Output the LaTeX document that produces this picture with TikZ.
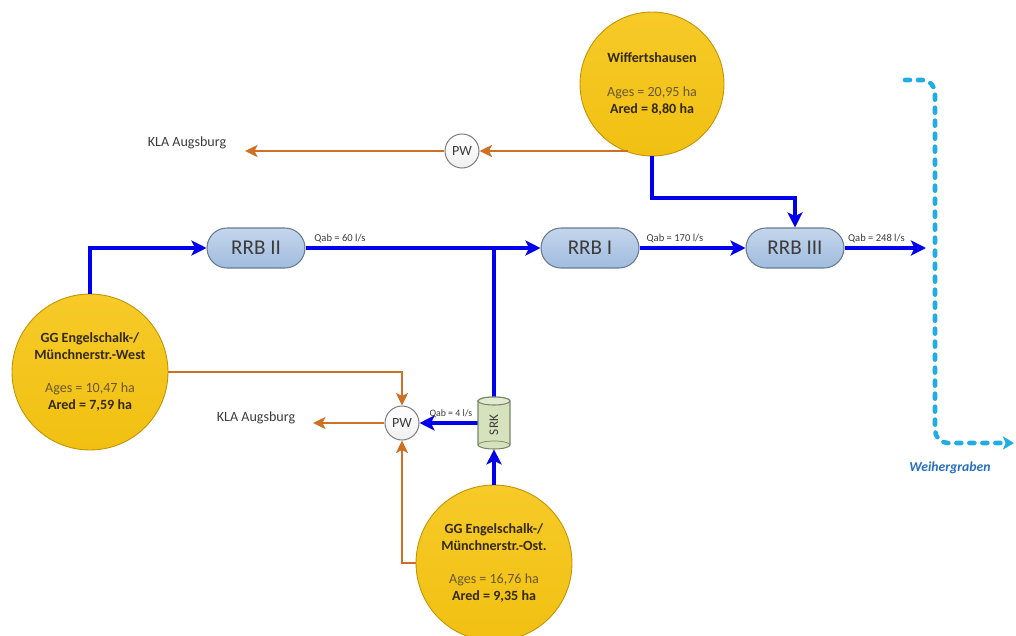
\documentclass[tikz,border=0pt]{standalone}
\usepackage{fontspec}
\setmainfont{Carlito}
\usetikzlibrary{arrows.meta,calc}

\definecolor{basinfill}{RGB}{241,192,18}
\definecolor{basintop}{RGB}{246,202,40}
\definecolor{basinedge}{RGB}{196,148,0}
\definecolor{basintext}{RGB}{52,42,18}
\definecolor{areatext}{RGB}{105,88,45}
\definecolor{boxtop}{RGB}{196,214,236}
\definecolor{boxbot}{RGB}{160,188,222}
\definecolor{boxedge}{RGB}{105,122,145}
\definecolor{flowblue}{RGB}{0,0,235}
\definecolor{sewer}{RGB}{206,112,36}
\definecolor{creek}{RGB}{34,172,230}
\definecolor{creektext}{RGB}{40,112,190}
\definecolor{srkfill}{RGB}{214,226,188}
\definecolor{srkedge}{RGB}{120,135,105}
\definecolor{pwedge}{RGB}{130,130,130}
\definecolor{labeltext}{RGB}{60,60,60}

\begin{document}
\begin{tikzpicture}[x=0.02cm,y=-0.02cm,
  basin/.style={circle,draw=basinedge,line width=0.5pt,top color=basintop,bottom color=basinfill,
    minimum size=#1,inner sep=0pt,align=center,text=basintext,font=\fontsize{8}{9.7}\selectfont},
  rrb/.style={rectangle,rounded corners=0.4cm,draw=boxedge,line width=0.6pt,top color=boxtop,bottom color=boxbot,
    minimum width=1.96cm,minimum height=0.8cm,inner sep=0pt,text=labeltext,font=\fontsize{12}{14}\selectfont},
  pump/.style={circle,draw=pwedge,line width=0.6pt,top color=white,bottom color=black!6,
    minimum size=0.68cm,inner sep=0pt,text=labeltext,font=\fontsize{8}{9}\selectfont},
  kla/.style={text=labeltext,font=\fontsize{8}{9}\selectfont},
  qab/.style={text=labeltext,inner sep=1pt,font=\fontsize{6}{7}\selectfont},
  flow/.style={draw=flowblue,line width=2.1pt},
  flowarrow/.style={flow,-{Stealth[length=0.3cm,width=0.3cm,inset=0.07cm]}},
  sewerline/.style={draw=sewer,line width=1.5pt,-{Stealth[length=0.25cm,width=0.24cm,inset=0.06cm]}},
  creekline/.style={draw=creek,line width=2.6pt,line cap=round,dash pattern=on 0.1cm off 0.16cm,
    rounded corners=0.26cm,-{Stealth[length=0.22cm,width=0.26cm,inset=0.05cm]}}
]
\useasboundingbox (0,0) rectangle (1016,635);
\clip (0,0) rectangle (1016,635);

% catchment areas
\node[basin=2.88cm] (wif) at (652,84)
  {\textbf{Wiffertshausen}\\[0.34cm]{\color{areatext}Ages = 20,95 ha}\\\textbf{Ared = 8,80 ha}};
\node[basin=3.12cm] (ggw) at (90,372)
  {\textbf{GG Engelschalk-/}\\\textbf{Münchnerstr.-West}\\[0.32cm]{\color{areatext}Ages = 10,47 ha}\\\textbf{Ared = 7,59 ha}};
\node[basin=3.12cm] (ggo) at (494,563)
  {\textbf{GG Engelschalk-/}\\\textbf{Münchnerstr.-Ost.}\\[0.32cm]{\color{areatext}Ages = 16,76 ha}\\\textbf{Ared = 9,35 ha}};

% retention basins
\node[rrb] (rrb2) at (256,248) {RRB II};
\node[rrb] (rrb1) at (590,248) {RRB I};
\node[rrb] (rrb3) at (795,248) {RRB III};

% pumping stations
\node[pump] (pw1) at (462,151) {PW};
\node[pump] (pw2) at (402,423) {PW};

% storm overflow tank (SRK): outline node for the connectors
\node[minimum width=0.64cm,minimum height=1.04cm,inner sep=0pt] (srk) at (494,423) {};

% receiving treatment plant labels and arrow ends
\node[kla] (kla1) at (187,143) {KLA Augsburg};
\node[kla] (kla2) at (256,418) {KLA Augsburg};
\coordinate (k1) at (245,151);
\coordinate (k2) at (313,423);

% blue storm water flow
\coordinate (jw) at (652,198);
\coordinate (out) at (926,248);
\draw[flowarrow] (wif.south) -- (jw) -| (rrb3.north);
\draw[flowarrow] (ggw.north) |- (rrb2.west);
\draw[flow] (srk.north) -- (srk.north |- rrb2.east);
\draw[flowarrow] (rrb2.east) -- node[pos=0,qab,anchor=south west,xshift=3pt,yshift=1pt] {Qab = 60 l/s} (rrb1.west);
\draw[flowarrow] (rrb1.east) -- node[pos=0,qab,anchor=south west,xshift=2pt,yshift=1pt] {Qab = 170 l/s} (rrb3.west);
\draw[flowarrow] (rrb3.east) -- node[pos=0,qab,anchor=south west,xshift=0pt,yshift=1pt] {Qab = 248 l/s} (out);
\draw[flowarrow] (ggo.north) -- (srk.south);
\draw[flowarrow] (srk.west) -- node[pos=0,qab,anchor=south east,xshift=-1pt,yshift=1pt,font=\fontsize{5.6}{7}\selectfont] {Qab = 4 l/s} (pw2.east);

% sewer (orange) flow to the treatment plant
\draw[sewerline] (wif.251 |- pw1.east) -- (pw1.east);
\draw[sewerline] (pw1.west) -- (k1);
\draw[sewerline] (ggw.east) -| (pw2.north);
\draw[sewerline] (ggo.west) -| (pw2.south);
\draw[sewerline] (pw2.west) -- (k2);

% the SRK cylinder itself, drawn over the line ends
\path[fill=srkfill,draw=srkedge,line width=0.6pt]
  (478,401) -- (478,445) arc[start angle=180,end angle=360,x radius=0.32cm,y radius=0.08cm]
  -- (510,401) arc[start angle=0,end angle=180,x radius=0.32cm,y radius=0.08cm] -- cycle;
\draw[srkedge,line width=0.4pt] (478,445) arc[start angle=180,end angle=0,x radius=0.32cm,y radius=0.08cm];
\draw[srkedge,line width=0.6pt,fill=srkfill!70!white] (494,401) ellipse[x radius=0.32cm,y radius=0.08cm];
\node[rotate=90,text=labeltext,font=\fontsize{7.5}{9}\selectfont] (srklabel) at (494,425) {SRK};

% Weihergraben creek
\coordinate (c0) at (905,80);
\coordinate (c1) at (935,80);
\coordinate (c2) at (935,443);
\coordinate (c3) at (1014,443);
\draw[creekline] (c0) -- (c1) -- (c2) -- (c3);
\node[text=creektext,font=\fontsize{7.8}{9}\selectfont\bfseries\itshape] (weiher) at (950,468) {Weihergraben};
\end{tikzpicture}
\end{document}
